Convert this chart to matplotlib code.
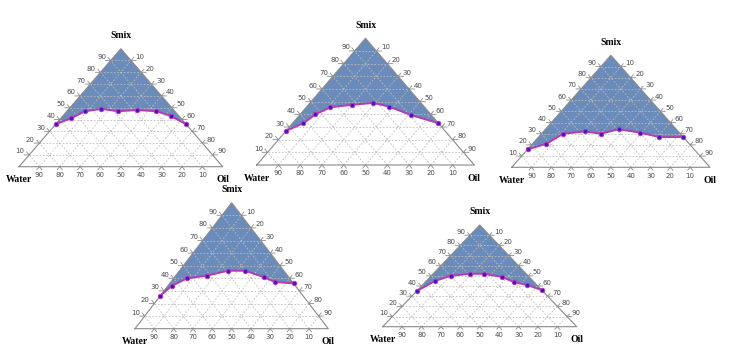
"""Five pseudo-ternary phase diagrams (Water / Oil / Smix)."""

import numpy as np
import matplotlib
matplotlib.use("Agg")
import matplotlib.pyplot as plt

# ---- Data: boundary points (Oil %, Smix %) ------------------------------
# Water % is whatever is left: 100 - oil - smix
oil_1 = [0, 5, 9, 16, 25, 34, 44, 53, 64]
smix_1 = [36, 41, 47, 49, 47, 48, 47, 43, 36]

oil_2 = [0, 5, 7, 11, 20, 29, 38, 51, 67]
smix_2 = [27, 33, 40, 45.5, 47.5, 49, 46, 39.5, 33]

oil_3 = [0, 7, 11, 21, 30, 37, 49, 61, 73]
smix_3 = [16, 21, 30, 32, 30, 34, 31, 27, 27]

oil_4 = [0, 2, 7, 16, 25, 34, 46, 54, 64]
smix_4 = [26, 34, 40, 42, 46, 46, 41, 37, 36]

oil_5 = [0, 4.5, 10, 19, 26, 37, 45.5, 54, 64]
smix_5 = [35, 45, 50, 52, 52, 49, 44, 41, 36]

tick_values = [10, 20, 30, 40, 50, 60, 70, 80, 90]
vertex_labels = ["Water", "Oil", "Smix"]

# triangle placement in pixels: bottom-left x, bottom-left y (from top), width, height
panels = [
    (oil_1, smix_1, (19, 166.7, 203.7, 118)),
    (oil_2, smix_2, (256.7, 165, 217.6, 126.7)),
    (oil_3, smix_3, (511.7, 167.3, 198.3, 112)),
    (oil_4, smix_4, (135, 328.7, 193.3, 126)),
    (oil_5, smix_5, (382.7, 326.7, 194, 101.7)),
]

FILL = "#6b8cba"
LINE = "#b23cb4"
DOT = "#4a12c8"
GRID = "#bdbdbd"
EDGE = "#8a8a8a"
TEXT = "#4a4a4a"
FIG_W, FIG_H = 730, 355


def to_xy(oil, smix):
    """Ternary (oil, smix) in percent -> cartesian inside unit triangle."""
    oil = np.asarray(oil, dtype=float) / 100
    smix = np.asarray(smix, dtype=float) / 100
    return oil + smix / 2, smix


def draw_ternary(ax, oil, smix):
    ax.set_xlim(0, 1)
    ax.set_ylim(0, 1)
    ax.axis("off")

    # Smix-rich region above the boundary
    x, y = to_xy(oil, smix)
    ax.fill(np.r_[0.5, x], np.r_[1.0, y], color=FILL, lw=0, zorder=1)

    # dashed grid, 10 % steps for every component
    for v in tick_values:
        f = v / 100
        ax.plot([f / 2, 1 - f / 2], [f, f], ls=(0, (2, 2)), lw=0.6, color=GRID, zorder=2)
        ax.plot([f, f + (1 - f) / 2], [0, 1 - f], ls=(0, (2, 2)), lw=0.6, color=GRID, zorder=2)
        ax.plot([1 - f, (1 - f) / 2], [0, 1 - f], ls=(0, (2, 2)), lw=0.6, color=GRID, zorder=2)

    # triangle outline
    ax.plot([0, 1, 0.5, 0], [0, 0, 1, 0], color=EDGE, lw=0.8, zorder=3, clip_on=False)

    # ticks + labels on the three edges
    d = 0.025
    for v in tick_values:
        f = v / 100
        # bottom edge: Water
        bx = 1 - f
        ax.plot([bx - d / 2, bx, bx + d / 2], [-d, 0, -d], color=EDGE, lw=0.6, clip_on=False)
        ax.annotate(str(v), (bx, 0), xytext=(0, -6), textcoords="offset points",
                    ha="center", va="center", fontsize=5, color=TEXT)
        # left edge: Smix
        lx, ly = f / 2, f
        ax.plot([lx - d, lx, lx - d / 2], [ly, ly, ly + d], color=EDGE, lw=0.6, clip_on=False)
        ax.annotate(str(v), (lx, ly), xytext=(-6.5, 2.5), textcoords="offset points",
                    ha="center", va="center", fontsize=5, color=TEXT)
        # right edge: Oil
        rx, ry = 0.5 + f / 2, 1 - f
        ax.plot([rx + d, rx, rx + d / 2], [ry, ry, ry + d], color=EDGE, lw=0.6, clip_on=False)
        ax.annotate(str(v), (rx, ry), xytext=(6.5, 2.5), textcoords="offset points",
                    ha="center", va="center", fontsize=5, color=TEXT)

    # boundary line with points
    ax.plot(x, y, color=LINE, lw=1.4, zorder=4, clip_on=False)
    ax.plot(x, y, "o", ms=3.2, mfc=DOT, mec=LINE, mew=0.7, zorder=5, clip_on=False)

    # vertex names
    font = dict(family="Liberation Serif", fontweight="bold", fontsize=7, color="black")
    ax.annotate(vertex_labels[0], (0, 0), xytext=(0, -9.5), textcoords="offset points",
                ha="center", va="center", **font)
    ax.annotate(vertex_labels[1], (1, 0), xytext=(0, -9.5), textcoords="offset points",
                ha="center", va="center", **font)
    ax.annotate(vertex_labels[2], (0.5, 1), xytext=(0, 9.5), textcoords="offset points",
                ha="center", va="center", **font)


fig = plt.figure(figsize=(FIG_W / 100, FIG_H / 100), dpi=100)
fig.patch.set_facecolor("white")

for oil, smix, (bx, by, w, h) in panels:
    ax = fig.add_axes([bx / FIG_W, (FIG_H - by) / FIG_H, w / FIG_W, h / FIG_H])
    draw_ternary(ax, oil, smix)

fig.savefig("out.png", dpi=100, facecolor="white")
